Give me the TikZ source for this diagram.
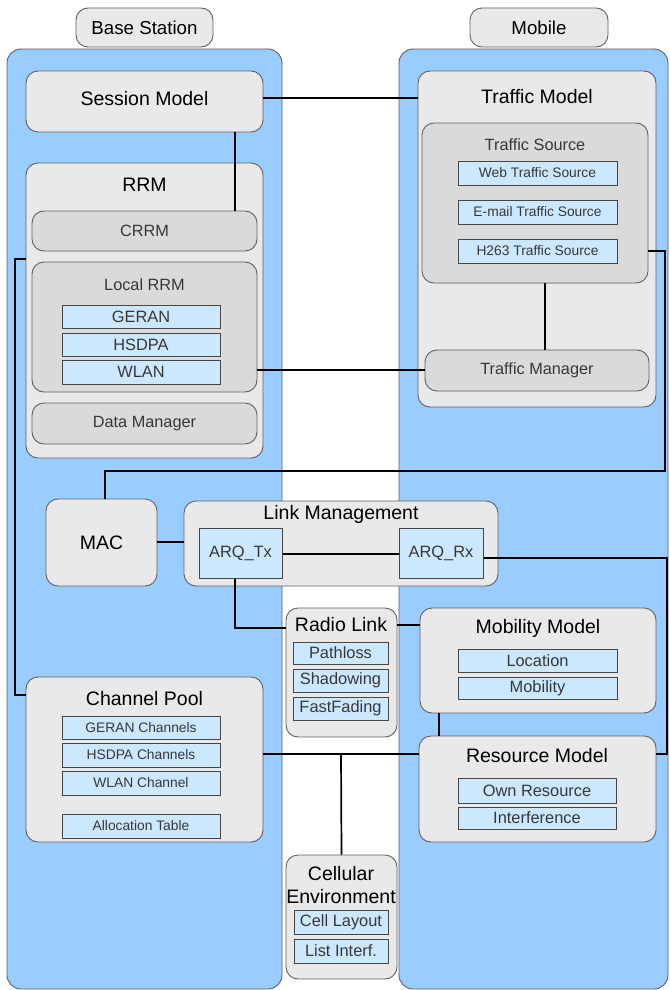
\documentclass[tikz,border=0pt]{standalone}
\usepackage{fontspec}
\setmainfont{Liberation Sans}
\definecolor{panelblue}{RGB}{153,204,255}
\definecolor{contgray}{RGB}{233,233,233}
\definecolor{innergray}{RGB}{218,218,218}
\definecolor{itemblue}{RGB}{204,232,255}
\definecolor{edgegray}{RGB}{95,95,95}
\definecolor{itemedge}{RGB}{70,70,70}
\definecolor{labelgray}{RGB}{55,55,55}
\tikzset{
  panel/.style={draw=edgegray, line width=0.9pt, fill=panelblue, rounded corners=14pt, inner sep=0pt},
  cont/.style={draw=edgegray, line width=0.9pt, fill=contgray, rounded corners=12pt, inner sep=0pt, text=black, font=\fontsize{19.5}{23}\selectfont},
  hdr/.style={cont, font=\fontsize{18.7}{22}\selectfont},
  inbox/.style={draw=edgegray, line width=0.9pt, fill=innergray, rounded corners=12pt, inner sep=0pt, text=labelgray, font=\fontsize{16.3}{19}\selectfont},
  item/.style={draw=itemedge, line width=1pt, fill=itemblue, inner sep=0pt, text=labelgray, font=\fontsize{16.4}{19}\selectfont},
  itemsm/.style={item, font=\fontsize{13.8}{16}\selectfont},
  ttl/.style={font=\fontsize{19.5}{23}\selectfont, text=black, inner sep=0pt},
  glabel/.style={font=\fontsize{16.3}{19}\selectfont, text=labelgray, inner sep=0pt},
  link/.style={line width=1.7pt, black},
}
% \bx{style}{name}{x1}{y1}{x2}{y2}{text}
\newcommand{\bx}[7]{\node[#1, minimum width={(#5)-(#3)}, minimum height={(#6)-(#4)}] (#2) at ({((#3)+(#5))/2},{((#4)+(#6))/2}) {#7};}
\begin{document}
\begin{tikzpicture}[x=1pt,y=-1pt]
\useasboundingbox (0,0) rectangle (669,990);
% panels
\bx{panel}{bs}{7}{49}{282}{989}{}
\bx{panel}{mob}{399}{49}{668}{989}{}
\bx{hdr}{bslab}{76}{8}{213}{47}{Base Station}
\bx{hdr}{moblab}{470}{8}{608}{47}{Mobile}
% Base station side
\bx{cont}{sess}{26}{71}{263}{132}{}
\node[ttl] (sesst) at (144.5,99) {Session Model};
\bx{cont}{rrm}{26}{163}{263}{458}{}
\node[ttl] (rrmt) at (144.5,185) {RRM};
\bx{inbox}{crrm}{32}{211}{257}{251}{CRRM}
\bx{inbox}{lrrm}{32}{262}{257}{392}{}
\node[glabel] (lrrmt) at (144.5,285) {Local RRM};
\bx{item}{geran}{62}{305}{220}{328}{GERAN}
\bx{item}{hsdpa}{62}{333}{220}{356}{HSDPA}
\bx{item}{wlan}{62}{360}{220}{384}{WLAN}
\bx{inbox}{dm}{32}{403}{257}{444}{Data Manager}
% Traffic model
\bx{cont}{tm}{418}{71}{656}{407}{}
\node[ttl] (tmt) at (537,97) {Traffic Model};
\bx{inbox}{tsrc}{422}{123}{648}{283}{}
\node[glabel] (tsrct) at (535,145) {Traffic Source};
\bx{itemsm}{web}{458}{161}{617}{185}{Web Traffic Source}
\bx{itemsm}{email}{458}{200}{617}{224}{E-mail Traffic Source}
\bx{itemsm}{h263}{458}{239}{617}{263}{H263 Traffic Source}
\bx{inbox}{tmgr}{425}{350}{649}{391}{Traffic Manager}
% MAC and link management
\bx{cont}{mac}{46}{499}{157}{586}{MAC}
\bx{cont}{lm}{184}{501}{498}{586}{}
\node[ttl] (lmt) at (341,514) {Link Management};
\bx{item}{arqtx}{199}{528}{282}{578}{ARQ\_Tx}
\bx{item}{arqrx}{399}{528}{483}{578}{ARQ\_Rx}
% Radio link
\bx{cont}{rl}{286}{608}{397}{737}{}
\node[ttl] (rlt) at (341,625) {Radio Link};
\bx{item}{path}{293}{642}{388}{664}{Pathloss}
\bx{item}{shad}{293}{669}{388}{692}{Shadowing}
\bx{item}{ff}{293}{697}{388}{720}{FastFading}
% Mobility model
\bx{cont}{mm}{420}{608}{656}{713}{}
\node[ttl] (mmt) at (538,628) {Mobility Model};
\bx{item}{loc}{458}{649}{617}{672}{Location}
\bx{item}{mobi}{458}{677}{617}{699}{Mobility}
% Resource model
\bx{cont}{rm}{419}{736}{656}{842}{}
\node[ttl] (rmt) at (537,756) {Resource Model};
\bx{item}{own}{458}{778}{616}{803}{Own Resource}
\bx{item}{intf}{458}{807}{616}{829}{Interference}
% Channel pool
\bx{cont}{cp}{26}{677}{263}{842}{}
\node[ttl] (cpt) at (144.5,699) {Channel Pool};
\bx{itemsm}{gch}{62}{716}{220}{739}{GERAN Channels}
\bx{itemsm}{hch}{62}{743}{220}{767}{HSDPA Channels}
\bx{itemsm}{wch}{62}{771}{220}{795}{WLAN Channel}
\bx{itemsm}{alloc}{62}{814}{220}{838}{Allocation Table}
% Cellular environment
\bx{cont}{ce}{286}{855}{397}{979}{}
\node[ttl, align=center, font=\fontsize{19.5}{22.7}\selectfont] (cet) at (341,885) {Cellular\\Environment};
\bx{item}{cl}{294}{910}{388}{934}{Cell Layout}
\bx{item}{li}{294}{939}{388}{963}{List Interf.}
% connectors
\draw[link] (sess.east |- 0,98) -- (tm.west |- 0,98);
\draw[link] (sess.south -| 235,0) -- (crrm.north -| 235,0);
\draw[link] (rrm.west |- 0,259) -- (15,259) -- (15,695) -- (cp.west |- 0,695);
\draw[link] (lrrm.east |- 0,370) -- (tmgr.west |- 0,370);
\draw[link] (tsrc.south -| 545,0) -- (tmgr.north -| 545,0);
\draw[link] (tsrc.east |- 0,251) -- (665,251) -- (665,471) -- (105,471) -- (mac.north -| 105,0);
\draw[link] (mac.east |- 0,542) -- (lm.west |- 0,542);
\draw[link] (arqtx.east |- 0,554) -- (arqrx.west |- 0,554);
\draw[link] (arqrx.east |- 0,558) -- (667,558) -- (667,754) -- (rm.east |- 0,754);
\draw[link] (arqtx.south -| 235,0) -- (235,628) -- (rl.west |- 0,628);
\draw[link] (rl.east |- 0,625) -- (mm.west |- 0,625);
\draw[link] (mm.south -| 439,0) -- (rm.north -| 439,0);
\draw[link] (cp.east |- 0,754) -- (rm.west |- 0,754);
\coordinate (jn) at (341,754);
\draw[link] (jn) -- (ce.north);
\end{tikzpicture}
\end{document}
